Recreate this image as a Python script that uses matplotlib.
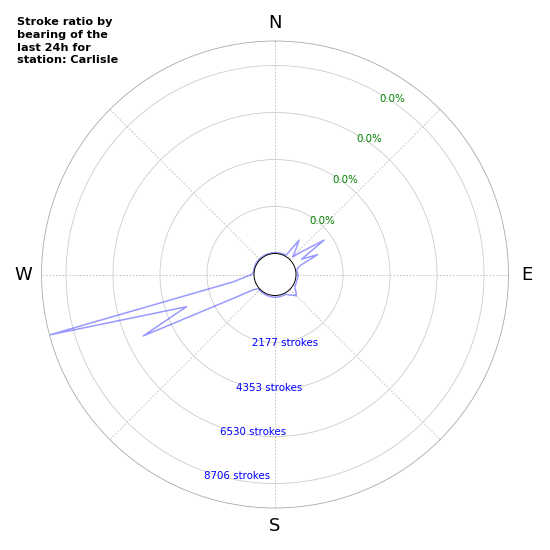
import numpy as np
import matplotlib
matplotlib.use("Agg")
import matplotlib.pyplot as plt

# stroke counts per 5 degree bearing bin (0, 5, ... 355)
bearings = list(range(0, 360, 5))
strokes = [
    40, 45, 45, 50, 50, 55, 60, 973, 510, 190, 720, 1803,    # 0-55
    450, 1200, 300, 100, 55, 70, 100, 90, 80, 75, 80, 90,    # 60-115
    90, 150, 300, 420, 268, 186, 80, 70, 70, 75, 80, 80,     # 120-175
    84, 80, 75, 70, 65, 60, 60, 55, 50, 50, 50, 263,         # 180-235
    1180, 5760, 3389, 9840, 1000, 420, 110, 40, 30, 30, 35, 40,  # 240-295
    45, 50, 50, 45, 40, 40, 40, 40, 40, 40, 40, 40,          # 300-355
]
stroke_ticks = [2177, 4353, 6530, 8706]
stroke_labels = [f"{t} strokes" for t in stroke_ticks]
ratio_labels = ["0.0%", "0.0%", "0.0%", "0.0%"]
compass_angles = [0, 45, 90, 135, 180, 225, 270, 315]
compass_labels = ["N", "", "E", "", "S", "", "W", ""]
station = "Carlisle"

r_max = max(strokes)
r_origin = -0.0989 * r_max

fig = plt.figure(figsize=(5.5, 5.5), dpi=100)
rect = [0.0755, 0.0764, 0.849, 0.849]
ax = fig.add_axes(rect, projection="polar")
ax.set_theta_zero_location("N")
ax.set_theta_direction(-1)

theta = np.deg2rad(bearings + [bearings[0]])
ax.plot(theta, strokes + [strokes[0]], color="blue", alpha=0.4, lw=1.1)

ax.set_ylim(0, r_max)
ax.set_rorigin(r_origin)
ax.set_yticks(stroke_ticks)
ax.set_yticklabels(stroke_labels)
ax.set_rlabel_position(200)
ax.tick_params(axis="y", labelsize=7.4, labelcolor="blue")
for lab in ax.get_yticklabels():
    lab.set_va("top")
    lab.set_ha("left")

ax.set_xticks(np.deg2rad(compass_angles))
ax.set_xticklabels(compass_labels)
ax.tick_params(axis="x", labelsize=13, pad=2.5)

ax.yaxis.grid(True, color="#cccccc", linestyle="-", lw=0.6)
ax.xaxis.grid(True, color="#bbbbbb", linestyle=(0, (2, 2)), lw=0.6)
ax.spines["polar"].set_color("#aaaaaa")
ax.spines["polar"].set_linewidth(0.6)
ax.spines["inner"].set_color("black")
ax.spines["inner"].set_linewidth(0.7)

# second polar axes on top for the ratio labels
ax2 = fig.add_axes(rect, projection="polar", frameon=False)
ax2.set_theta_zero_location("N")
ax2.set_theta_direction(-1)
ax2.set_ylim(0, r_max)
ax2.set_rorigin(r_origin)
ax2.set_yticks(stroke_ticks)
ax2.set_yticklabels(ratio_labels)
ax2.set_rlabel_position(30)
ax2.tick_params(axis="y", labelsize=7.4, labelcolor="green")
for lab in ax2.get_yticklabels():
    lab.set_va("top")
    lab.set_ha("left")
ax2.set_xticks([])
ax2.grid(False)

fig.text(17 / 550, 1 - 17 / 550,
         f"Stroke ratio by\nbearing of the\nlast 24h for\nstation: {station}",
         ha="left", va="top", fontsize=8.1, fontweight="bold", linespacing=1.35)

fig.savefig("out.png", dpi=100)
